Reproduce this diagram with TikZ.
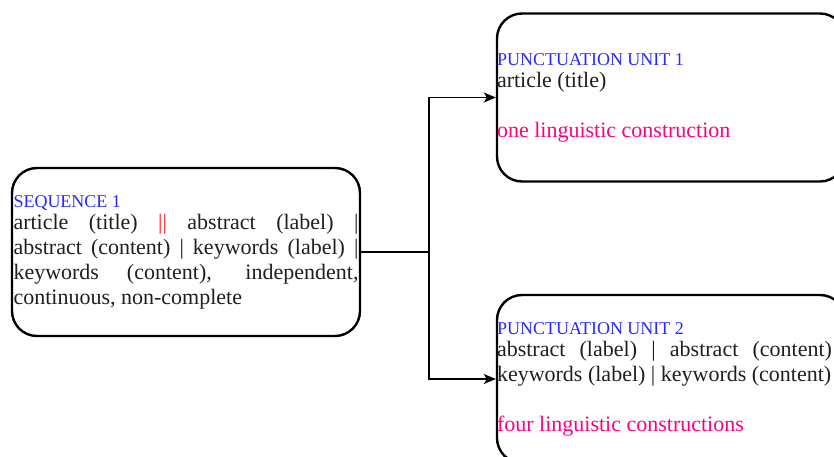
\documentclass[tikz,border=0pt]{standalone}
\usepackage{fontspec}
\setmainfont{Liberation Serif}
\usetikzlibrary{arrows.meta}

\definecolor{headblue}{RGB}{40, 40, 255}
\definecolor{notepink}{RGB}{255, 0, 128}
\definecolor{barred}{RGB}{255, 30, 30}

\tikzset{
	unit/.style = {draw, line width = 2.4pt, rounded corners = 25pt,
		minimum width = 348pt, minimum height = 168pt, inner xsep = 0pt,
		align = justify, text = black!88,
		font = \fontsize{22}{25}\selectfont}
}

\newcommand{\unithead}[1]{{\color{headblue}\fontsize{18}{22}\selectfont #1\par}\vspace{-3pt}}

\begin{document}
\begin{tikzpicture}[> = {Stealth[length = 12pt, width = 10pt, inset = 3pt]}, x = 1pt, y = -1pt]

	\useasboundingbox (0, 0) rectangle (834, 457);

	% Boxes
	
	\node [unit, text width = 345pt] (seq) at (186, 252) {%
		\unithead{SEQUENCE 1}%
		article (title) {\color{barred}||} abstract (label) |\linebreak
		abstract (content) | keywords (label) |\linebreak
		keywords (content), independent,\linebreak
		continuous, non-complete};
	
	\node [unit, text width = 348pt] (pu1) at (671, 97.5) {%
		\rightskip = 13pt\relax
		\unithead{PUNCTUATION UNIT 1}%
		article (title)\par\vspace{25pt}
		{\color{notepink}one linguistic construction}};
	
	\node [unit, text width = 348pt] (pu2) at (671, 379) {%
		\rightskip = 13pt\relax
		\unithead{PUNCTUATION UNIT 2}%
		abstract (label) | abstract (content)\linebreak
		keywords (label) | keywords (content)\par\vspace{25pt}
		{\color{notepink}four linguistic constructions}};

	% Connectors
	
	\coordinate (fork) at (429, 252);
	\draw [line width = 1.5pt] (seq.east) -- (fork);
	\draw [line width = 1.5pt, ->] (fork) |- (pu1.west);
	\draw [line width = 1.5pt, ->] (fork) |- (pu2.west);

\end{tikzpicture}
\end{document}
